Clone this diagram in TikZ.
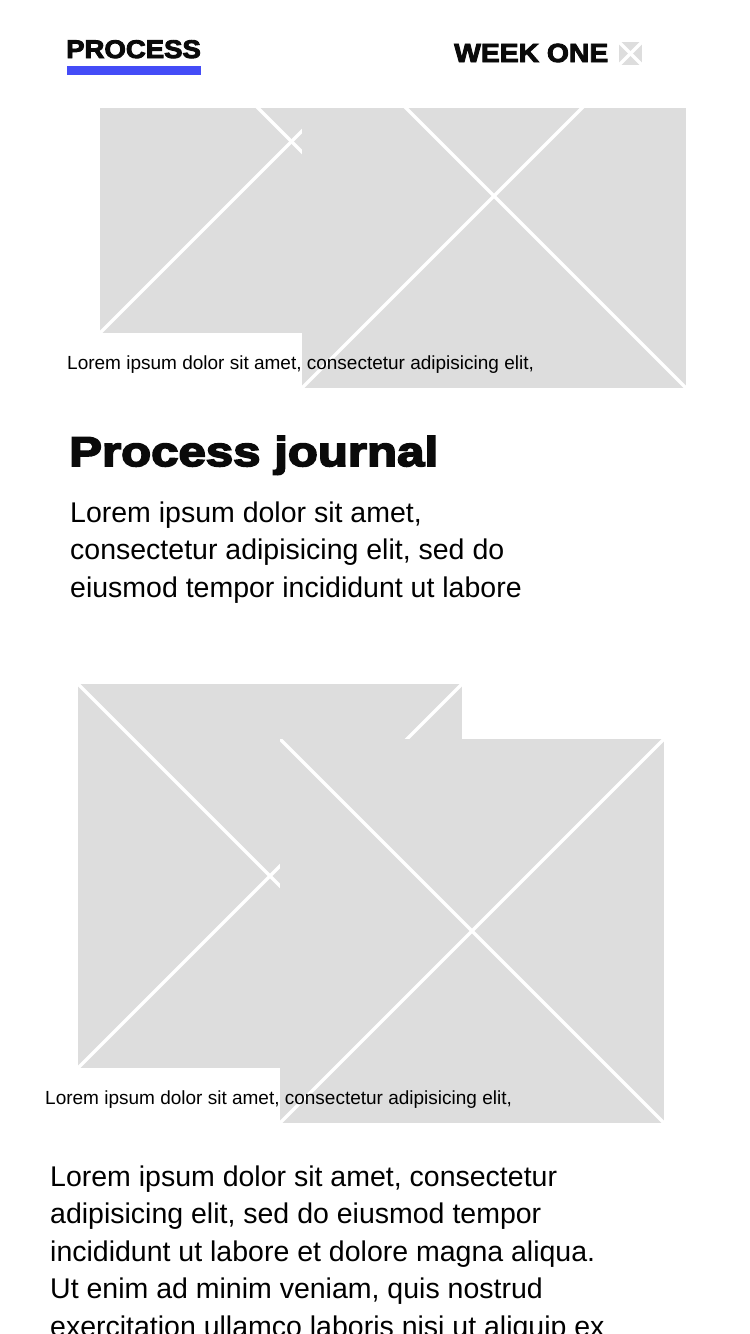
\documentclass[tikz,border=0pt]{standalone}
\usepackage{fontspec}
\setmainfont{Liberation Sans}
\newfontfamily\blackfont[FakeBold=3.6,FakeStretch=1.08]{Liberation Sans Bold}
\newfontfamily\titlefont[FakeBold=4.2,FakeStretch=1.185]{Liberation Sans Bold}
\definecolor{holdgray}{HTML}{DDDDDD}
\definecolor{underblue}{HTML}{444CF7}
\definecolor{inkblack}{HTML}{0A0A0A}
% one image placeholder: name, left, top of the full square, top of the shown part
\newcommand{\holder}[5]{
  \begin{scope}
    \clip (#2,#4) rectangle (#2+#5,#3+#5);
    \fill[holdgray] (#2,#3) rectangle (#2+#5,#3+#5);
    \coordinate (#1tl) at (#2,#3);
    \coordinate (#1tr) at (#2+#5,#3);
    \coordinate (#1bl) at (#2,#3+#5);
    \coordinate (#1br) at (#2+#5,#3+#5);
    \draw[crossline] (#1tl) -- (#1br);
    \draw[crossline] (#1tr) -- (#1bl);
  \end{scope}
}
\begin{document}
\begin{tikzpicture}[
            x=1pt, y=-1pt,
            crossline/.style={draw=white, line width=3.4pt},
            caption/.style={anchor=base west, inner sep=0pt, font=\fontsize{19}{19}\selectfont, text=black},
            bodytext/.style={anchor=base west, inner sep=0pt, font=\fontsize{28.5}{37.4}\selectfont, text=black, align=left},
            blacktext/.style={anchor=base west, inner sep=0pt, text=inkblack},
        ]
        \useasboundingbox (0,0) rectangle (750,1334);
        \clip (0,0) rectangle (750,1334);
        \fill[white] (0,0) rectangle (750,1334);
        % header
        \fill[underblue] (67,66) rectangle (201,75);
        \node[blacktext, font=\blackfont\fontsize{25.5}{26}\selectfont] (process) at (66,58) {PROCESS};
        \node[blacktext, font=\blackfont\fontsize{26.2}{26}\selectfont] (week) at (454,62) {WEEK ONE};
        \holder{icon}{619}{42}{42}{23}
        % first pair of images
        \holder{backa}{100}{-50}{108}{383}
        \holder{fronta}{302}{4}{108}{384}
        \node[caption] (capa) at (67,369) {Lorem ipsum dolor sit amet, consectetur adipisicing elit,};
        \node[blacktext, font=\titlefont\fontsize{41.5}{42}\selectfont] (title) at (69,466) {Process journal};
        \node[bodytext] (intro) at (70,597) {Lorem ipsum dolor sit amet,\\consectetur adipisicing elit, sed do\\eiusmod tempor incididunt ut labore};
        % second pair of images
        \holder{backb}{78}{684}{684}{384}
        \holder{frontb}{280}{739}{739}{384}
        \node[caption] (capb) at (45,1104) {Lorem ipsum dolor sit amet, consectetur adipisicing elit,};
        \node[bodytext] (body) at (50,1336) {Lorem ipsum dolor sit amet, consectetur\\adipisicing elit, sed do eiusmod tempor\\incididunt ut labore et dolore magna aliqua.\\Ut enim ad minim veniam, quis nostrud\\exercitation ullamco laboris nisi ut aliquip ex};
        \end{tikzpicture}
\end{document}
